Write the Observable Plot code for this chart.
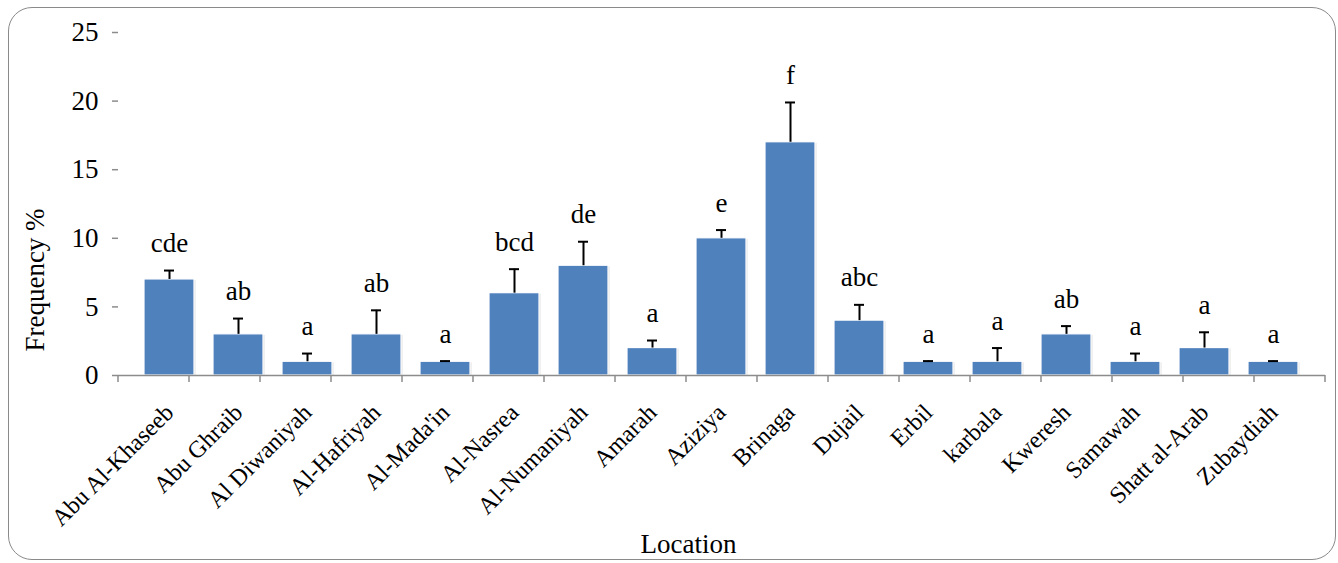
<!DOCTYPE html>
<html>
<head>
<meta charset="utf-8">
<script src="https://cdn.jsdelivr.net/npm/d3@7"></script>
<script src="https://cdn.jsdelivr.net/npm/@observablehq/plot@0.6"></script>
<style>
  html, body { margin: 0; padding: 0; background: #fff; }
  #wrap { position: relative; width: 1338px; height: 563px; overflow: hidden; }
  #frame { position: absolute; left: 8px; top: 7px; width: 1328px; height: 553px;
           border: 1.5px solid #8a8a8a; border-radius: 24px; box-sizing: border-box; pointer-events: none; }
  svg { font-family: "Liberation Serif", serif; }
</style>
</head>
<body>
<div id="wrap"><div id="frame"></div><div id="chart"></div></div>
<script>
const locations = ["Abu Al-Khaseeb","Abu Ghraib","Al Diwaniyah","Al-Hafriyah","Al-Mada'in","Al-Nasrea","Al-Numaniyah","Amarah","Aziziya","Brinaga","Dujail","Erbil","karbala","Kweresh","Samawah","Shatt al-Arab","Zubaydiah"];
const frequency = [7,3,1,3,1,6,8,2,10,17,4,1,1,3,1,2,1];
const errors = [0.65,1.15,0.6,1.75,0.05,1.75,1.75,0.55,0.6,2.9,1.15,0.05,1.0,0.6,0.6,1.15,0.05];
const groups = ["cde","ab","a","ab","a","bcd","de","a","e","f","abc","a","a","ab","a","a","a"];
const yTicks = [0,5,10,15,20,25];
const yTitle = "Frequency %";
const xTitle = "Location";

const data = locations.map((loc, i) => ({loc, value: frequency[i], err: errors[i], top: frequency[i] + errors[i], group: groups[i]}));

const W = 1338, H = 563, ML = 118, MR = 13, MT = 32, MB = 188;
const axisColor = "#8c8c8c";
const FONT = "Liberation Serif, serif";

// boundary tick marks between categories along the x axis
function boundaryTicks(index, scales, values, dimensions) {
  const {width, marginLeft, marginRight} = dimensions;
  const n = locations.length;
  const step = (width - marginLeft - marginRight) / n;
  const y0 = scales.y(0);
  const g = d3.create("svg:g");
  g.selectAll("line").data(d3.range(n + 1)).join("line")
    .attr("x1", i => marginLeft + i * step).attr("x2", i => marginLeft + i * step)
    .attr("y1", y0).attr("y2", y0 + 7)
    .attr("stroke", axisColor).attr("stroke-width", 1.5);
  return g.node();
}

// axis titles placed relative to the frame
function axisTitles(index, scales, values, dimensions) {
  const {height, marginLeft, marginBottom} = dimensions;
  const bottom = height - marginBottom;
  const g = d3.create("svg:g").attr("font-family", FONT).attr("font-size", 27).attr("fill", "#000");
  g.append("text")
    .attr("text-anchor", "middle")
    .attr("transform", `translate(${marginLeft - 74},${bottom - 95}) rotate(-90)`)
    .text(yTitle);
  g.append("text")
    .attr("text-anchor", "middle")
    .attr("x", 688.5).attr("y", bottom + 178)
    .text(xTitle);
  return g.node();
}

const chart = Plot.plot({
  width: W, height: H,
  marginLeft: ML, marginRight: MR, marginTop: MT, marginBottom: MB,
  style: {fontFamily: FONT, background: "transparent", overflow: "visible"},
  x: {domain: locations, padding: 0.27, label: null},
  y: {domain: [0, 25], label: null},
  marks: [
    // soft shadow behind bars
    Plot.barY(data, {x: "loc", y: "value", fill: "#cfcfcf", dx: 1.5, dy: 1, fillOpacity: 0.6}),
    Plot.barY(data, {x: "loc", y: "value", fill: "#4f81bd", stroke: "#ffffff", strokeWidth: 1.2}),
    Plot.ruleX(data, {x: "loc", y1: "value", y2: "top", stroke: "#000", strokeWidth: 2}),
    Plot.tickY(data, {x: "loc", y: "top", stroke: "#000", strokeWidth: 2, insetLeft: 20, insetRight: 20}),
    Plot.text(data, {x: "loc", y: "top", text: "group", dy: -27, fontSize: 27, fill: "#000"}),
    Plot.axisY({ticks: yTicks, tickSize: 6, tickPadding: 14, fontSize: 27, stroke: axisColor, color: "#000", strokeWidth: 1.5, label: null}),
    Plot.ruleX([0], {stroke: axisColor, strokeWidth: 1.5}),
    Plot.ruleY([0], {stroke: axisColor, strokeWidth: 1.5}),
    Plot.axisX({tickRotate: -45, tickSize: 0, tickPadding: 33, fontSize: 24, label: null, color: "#000"}),
    boundaryTicks,
    axisTitles
  ]
});
document.getElementById("chart").appendChild(chart);
</script>
</body>
</html>
